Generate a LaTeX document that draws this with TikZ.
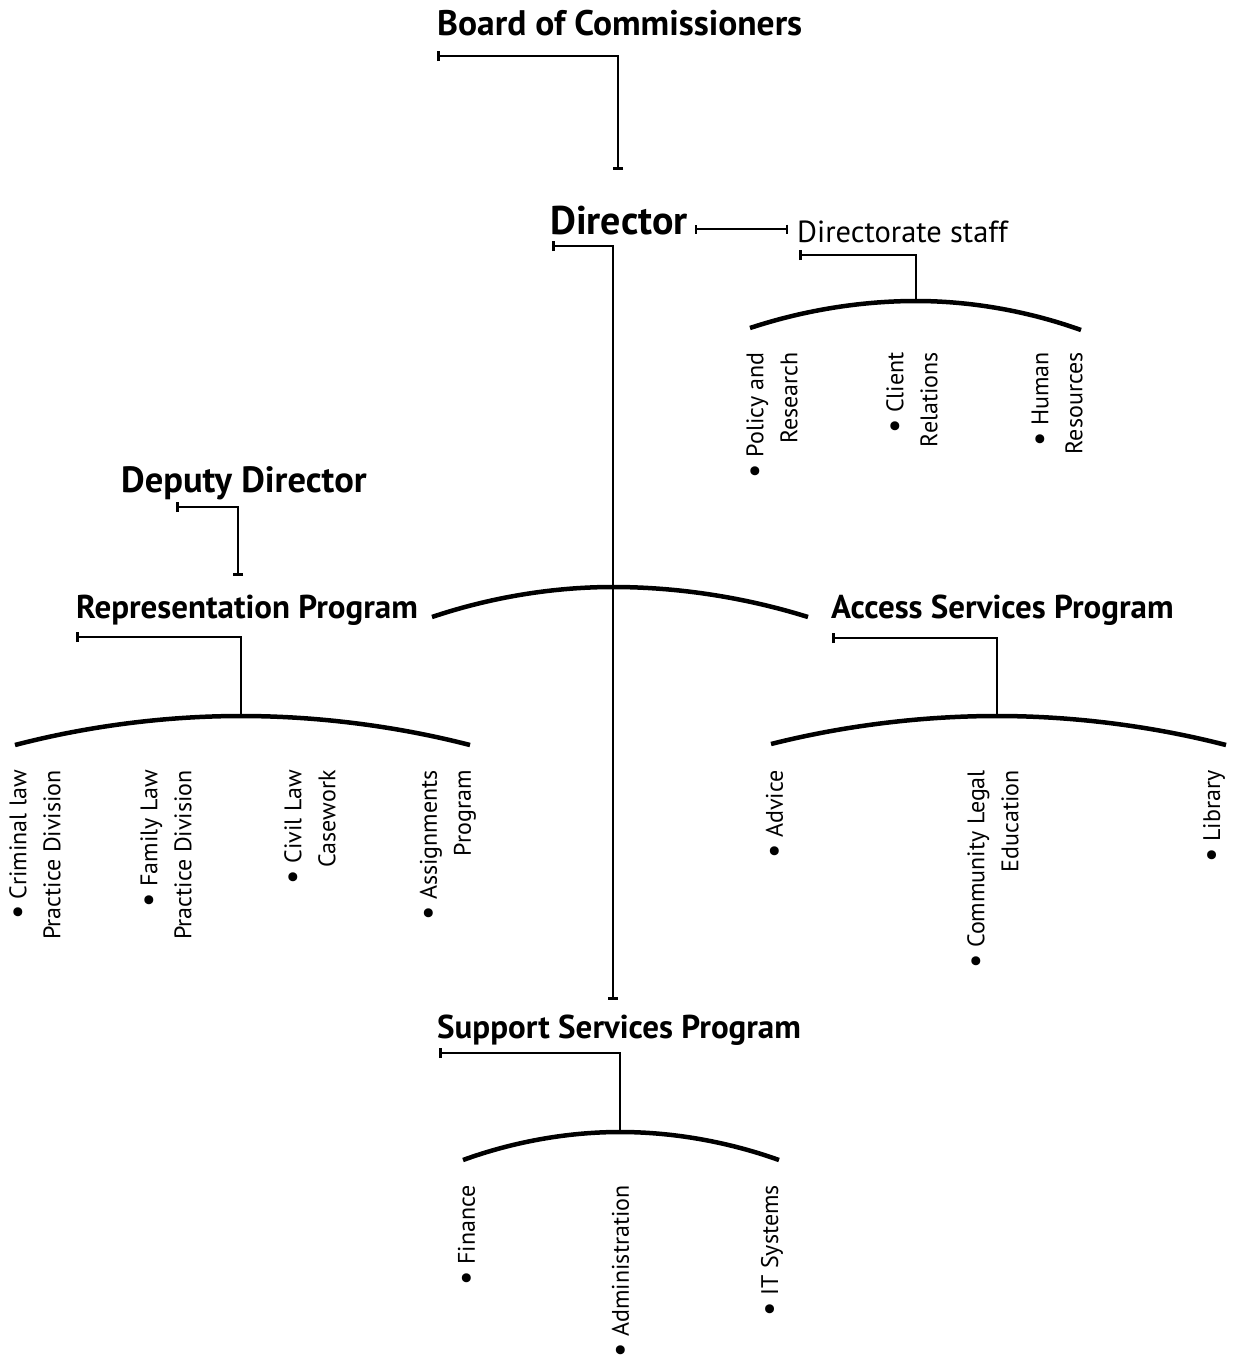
\documentclass[tikz,border=0pt]{standalone}
\usepackage{fontspec}
\setmainfont{PT Sans}
\usetikzlibrary{arrows.meta}
\newcommand\mybul{\raisebox{-1.5pt}{\fontsize{32}{34}\selectfont •}}
\begin{document}
\begin{tikzpicture}[x=1pt,y=-1pt,
  title/.style={inner sep=0pt,anchor=base west,font=\fontsize{33}{38}\selectfont\bfseries},
  bigtitle/.style={inner sep=0pt,anchor=base west,font=\fontsize{40}{44}\selectfont\bfseries},
  plain/.style={inner sep=0pt,anchor=base west,font=\fontsize{30.5}{34}\selectfont},
  item/.style={inner sep=0pt,anchor=east,rotate=90,align=right,font=\fontsize{24}{34}\selectfont},
  conn/.style={line width=2pt,{Bar[width=10pt,line width=3pt]}-{Bar[width=10pt,line width=3pt]}},
  thinconn/.style={line width=2pt,{Bar[width=9pt,line width=2pt]}-{Bar[width=9pt,line width=2pt]}},
  startconn/.style={line width=2pt,{Bar[width=10pt,line width=3pt]}-},
  arcline/.style={line width=4.5pt}]
\useasboundingbox (0,0) rectangle (1237,1358);

% titles
\node[title,font=\fontsize{35.5}{40}\selectfont\bfseries] (board) at (437,35) {Board of Commissioners};
\node[bigtitle] (director) at (550,234) {Director};
\node[plain] (staff) at (797,242) {Directorate staff};
\node[title,font=\fontsize{36.5}{40}\selectfont\bfseries] (deputy) at (121,492) {Deputy Director};
\node[title] (rep) at (76,618) {Representation Program};
\node[title] (access) at (831,618) {Access Services Program};
\node[title] (support) at (437,1038) {Support Services Program};

% coordinates
\coordinate (board-t) at (437,56);
\coordinate (dir-top) at (618,170);
\coordinate (dir-r) at (695,229);
\coordinate (staff-l) at (788,229);
\coordinate (staff-t) at (799,255);
\coordinate (staff-a) at (916,301);
\coordinate (dir-t) at (552,246);
\coordinate (sup-top) at (613,1000);
\coordinate (dep-t) at (176,507);
\coordinate (rep-top) at (238,576);
\coordinate (rep-t) at (76,637);
\coordinate (rep-a) at (241,716);
\coordinate (acc-t) at (832,638);
\coordinate (acc-a) at (997,716);
\coordinate (sup-t) at (439,1053);
\coordinate (sup-a) at (620,1132);
\coordinate (main-a) at (613,587);

% connectors
\draw[conn] (board-t) -| (dir-top);
\draw[thinconn] (dir-r) -- (staff-l);
\draw[conn] (dir-t) -| (sup-top);
\draw[conn] (dep-t) -| (rep-top);
\draw[startconn] (staff-t) -| (staff-a);
\draw[startconn] (rep-t) -| (rep-a);
\draw[startconn] (acc-t) -| (acc-a);
\draw[startconn] (sup-t) -| (sup-a);

% arcs
\draw[arcline] (750,328) parabola bend (staff-a) (1081,330);
\draw[arcline] (432,617) parabola bend (main-a) (808,617);
\draw[arcline] (15,745) parabola bend (rep-a) (470,745);
\draw[arcline] (771,744) parabola bend (acc-a) (1226,745);
\draw[arcline] (463,1160) parabola bend (sup-a) (779,1160);

% items
\node[item] (i1) at (772,352) {\mybul{} Policy and\\Research};
\node[item] (i2) at (912,352) {\mybul{} Client\\Relations};
\node[item] (i3) at (1057,352) {\mybul{} Human\\Resources};
\node[item] (r1) at (35,770) {\mybul{} Criminal law\\Practice Division};
\node[item] (r2) at (166,770) {\mybul{} Family Law\\Practice Division};
\node[item] (r3) at (310,770) {\mybul{} Civil Law\\Casework};
\node[item] (r4) at (448,770) {\mybul{} Assignments\\Program};
\node[item] (a1) at (775,770) {\mybul{} Advice};
\node[item] (a2) at (993,770) {\mybul{} Community Legal\\Education};
\node[item] (a3) at (1214,770) {\mybul{} Library};
\node[item] (s1) at (467,1185) {\mybul{} Finance};
\node[item] (s2) at (621,1185) {\mybul{} Administration};
\node[item] (s3) at (772,1185) {\mybul{} IT Systems};
\end{tikzpicture}
\end{document}
